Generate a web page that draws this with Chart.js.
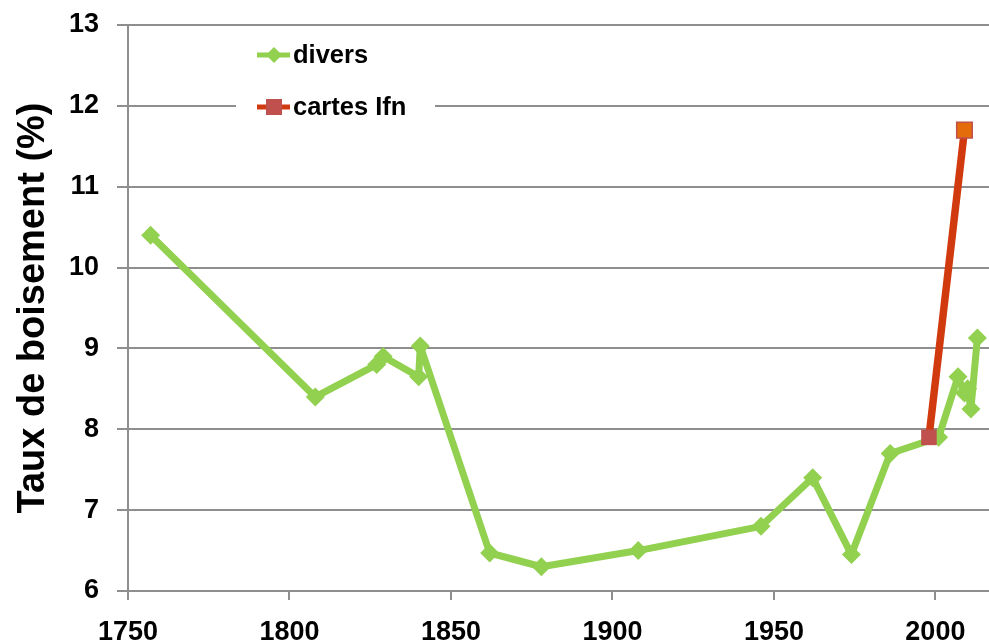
<!DOCTYPE html>
<html>
<head>
<meta charset="utf-8">
<script src="https://cdn.jsdelivr.net/npm/chart.js@4/dist/chart.umd.min.js"></script>
<style>
  html, body { margin: 0; padding: 0; background: #fff; }
  #wrap { width: 989px; height: 641px; }
</style>
</head>
<body>
<div id="wrap"><canvas id="chart" width="989" height="641"></canvas></div>
<script>
// Data
const diversYears  = [1757, 1808, 1827, 1829, 1840, 1840.5, 1862, 1878, 1908, 1946, 1962, 1974, 1986, 2001, 2007, 2009, 2010, 2011, 2013];
const diversValues = [10.4, 8.4, 8.8, 8.9, 8.65, 9.03, 6.47, 6.3, 6.5, 6.8, 7.4, 6.45, 7.7, 7.9, 8.65, 8.45, 8.5, 8.25, 9.13];
const cartesYears  = [1998, 2009];
const cartesValues = [7.9, 11.7];
const xTicks = [1750, 1800, 1850, 1900, 1950, 2000];
const yTicks = [6, 7, 8, 9, 10, 11, 12, 13];
const seriesLabels = ["divers", "cartes Ifn"];
const yTitle = "Taux de boisement (%)";

const GREEN = "#92d050";
const RED = "#d1390e";
const GRID = "#8e8e8e";
const FONT = "'Liberation Sans', Arial, sans-serif";

const toPoints = (xs, ys) => xs.map((x, i) => ({ x, y: ys[i] }));

// legend drawn inside the plot, on a white box
const insideLegend = {
  id: "insideLegend",
  afterDraw(chart){
    const ctx = chart.ctx;
    ctx.save();
    ctx.fillStyle = "#fff";
    ctx.fillRect(236, 32, 199, 92);
    const rows = [55, 107];
    chart.data.datasets.forEach((ds, i) => {
      const y = rows[i];
      ctx.strokeStyle = ds.borderColor;
      ctx.lineWidth = 5;
      ctx.beginPath();
      ctx.moveTo(257, y);
      ctx.lineTo(290, y);
      ctx.stroke();
      if (ds.pointStyle === "rectRot"){
        ctx.fillStyle = GREEN;
        ctx.beginPath();
        ctx.moveTo(274, y - 8);
        ctx.lineTo(282, y);
        ctx.lineTo(274, y + 8);
        ctx.lineTo(266, y);
        ctx.closePath();
        ctx.fill();
      } else {
        ctx.fillStyle = "#c0504d";
        ctx.fillRect(266, y - 8, 16, 16);
      }
      ctx.fillStyle = "#000";
      ctx.font = "bold 25.5px " + FONT;
      ctx.textBaseline = "middle";
      ctx.textAlign = "left";
      ctx.fillText(ds.label, 293, y + 1);
    });
    ctx.restore();
  }
};

new Chart(document.getElementById("chart").getContext("2d"), {
  type: "line",
  data: {
    datasets: [
      {
        label: seriesLabels[0],
        data: toPoints(diversYears, diversValues),
        borderColor: GREEN,
        backgroundColor: GREEN,
        borderWidth: 7,
        borderJoinStyle: "round",
        pointStyle: "rectRot",
        pointRadius: 9.5,
        pointBorderWidth: 0,
        pointBackgroundColor: GREEN,
        tension: 0,
        order: 1
      },
      {
        label: seriesLabels[1],
        data: toPoints(cartesYears, cartesValues),
        borderColor: RED,
        backgroundColor: RED,
        borderWidth: 7.5,
        borderJoinStyle: "round",
        pointStyle: "rect",
        pointRadius: 11,
        pointBorderWidth: [0, 1.5],
        pointBorderColor: "#c0504d",
        pointBackgroundColor: ["#c0504d", "#e46c0a"],
        tension: 0,
        order: 0
      }
    ]
  },
  options: {
    responsive: false,
    animation: false,
    layout: { autoPadding: false, padding: { top: 25, right: 0, bottom: 0, left: 0 } },
    plugins: {
      legend: { display: false },
      tooltip: { enabled: false }
    },
    scales: {
      x: {
        type: "linear",
        min: 1750,
        max: 2016.6,
        afterFit(s){ s.height = 50; s.paddingLeft = 0; s.paddingRight = 0; },
        afterBuildTicks(s){ s.ticks = xTicks.map(v => ({ value: v })); },
        grid: { drawOnChartArea: false, color: GRID, lineWidth: 2, tickLength: 9 },
        border: { color: GRID, width: 2 },
        ticks: {
          color: "#000", font: { family: FONT, size: 27, weight: "bold" },
          padding: 16, maxRotation: 0,
          callback: v => String(v)
        }
      },
      y: {
        min: 6,
        max: 13,
        afterFit(s){ s.width = 128; s.paddingTop = 0; s.paddingBottom = 0; },
        afterBuildTicks(s){ s.ticks = yTicks.map(v => ({ value: v })); },
        grid: { color: GRID, lineWidth: 2, tickLength: 11 },
        border: { color: GRID, width: 2 },
        ticks: { color: "#000", font: { family: FONT, size: 27, weight: "bold" }, padding: 18 },
        title: {
          display: true,
          text: yTitle,
          color: "#000",
          font: { family: FONT, size: 38, weight: "bold" },
          padding: { top: 11, bottom: 0 }
        }
      }
    }
  },
  plugins: [insideLegend]
});
</script>
</body>
</html>
